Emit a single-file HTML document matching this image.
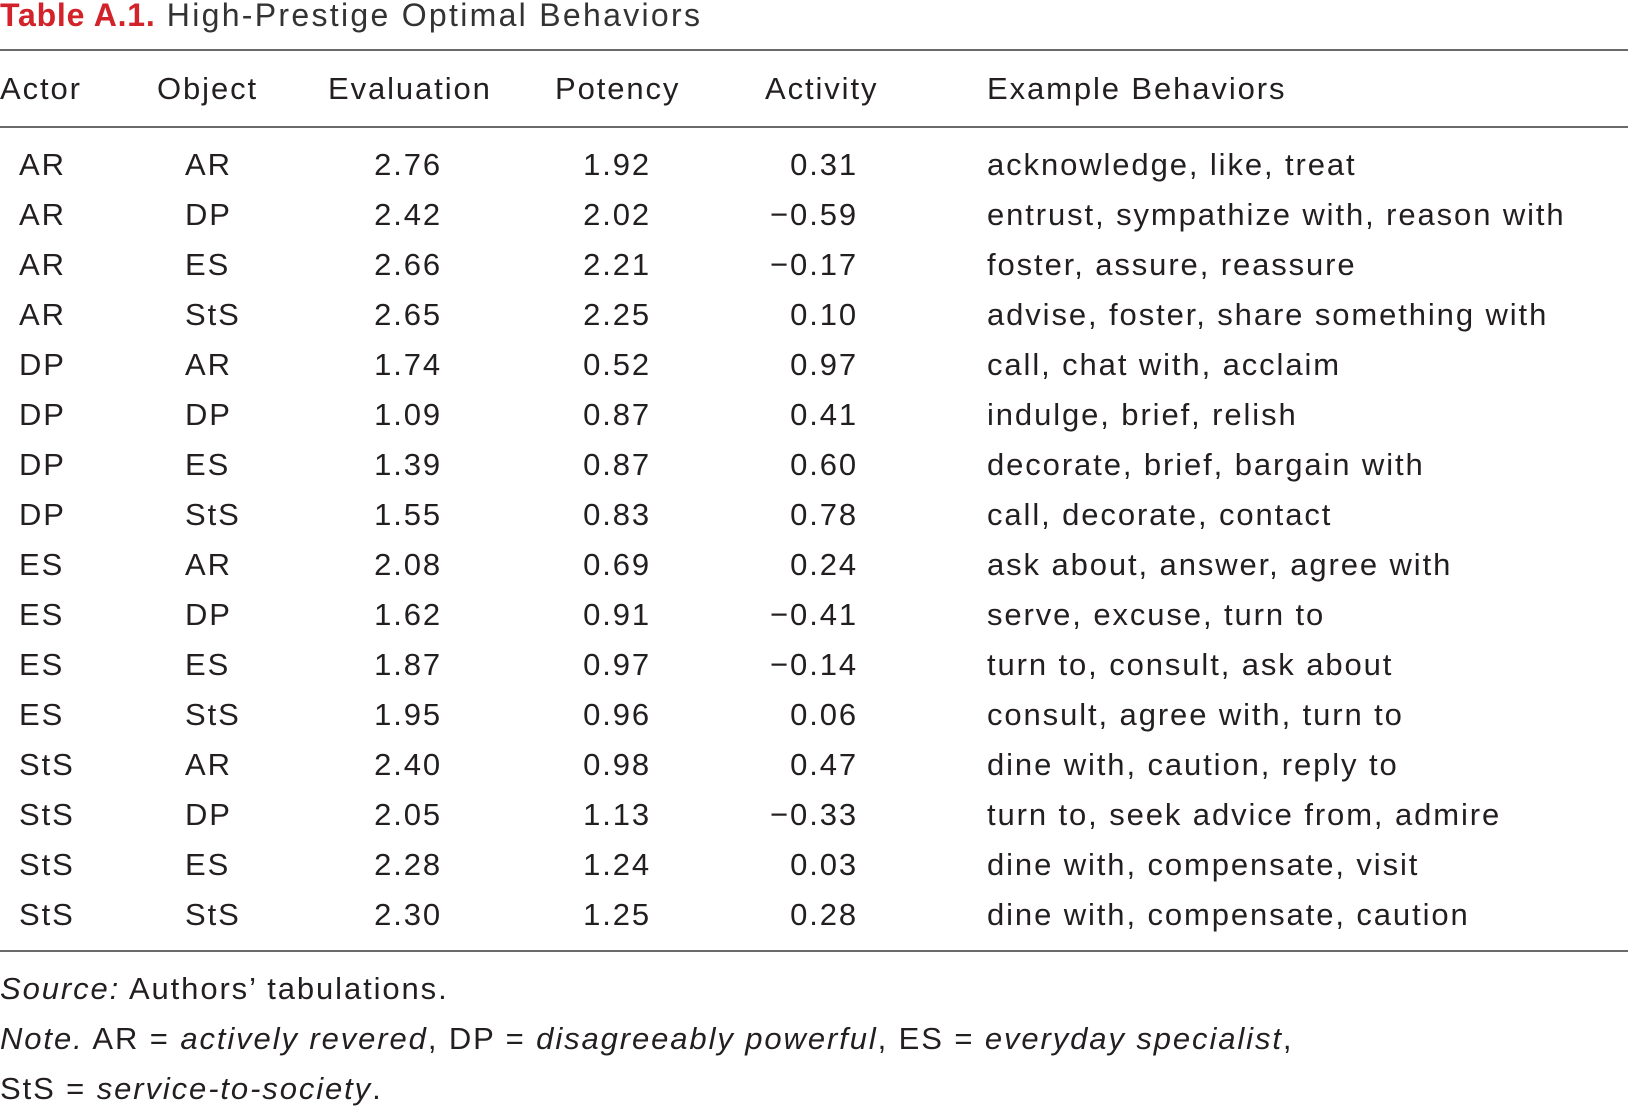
<!DOCTYPE html>
<html>
<head>
<meta charset="utf-8">
<style>
  html, body { margin: 0; padding: 0; background: #fff; }
  body { width: 1628px; height: 1108px; position: relative; overflow: hidden;
         font-family: "Liberation Sans", sans-serif; color: #231f20; }
  .t { position: absolute; white-space: nowrap; font-size: 31px; line-height: 40px; height: 40px; letter-spacing: 1.9px; }
  .r { text-align: right; }
  .rule { position: absolute; left: 0; width: 1628px; height: 2px; background: #6a6a6a; }
  i { font-style: italic; }
</style>
</head>
<body>
<div class="t" style="left:0;top:-5px;font-size:32px;letter-spacing:2.3px;">
  <b style="color:#d2232a;letter-spacing:0.8px;">Table A.1.</b>
  <span style="color:#333;">High-Prestige Optimal Behaviors</span>
</div>
<div class="rule" style="top:49px;"></div>

<div class="t" style="left:0;top:69px;">Actor</div>
<div class="t" style="left:157px;top:69px;">Object</div>
<div class="t" style="left:328px;top:69px;">Evaluation</div>
<div class="t" style="left:555px;top:69px;">Potency</div>
<div class="t" style="left:765px;top:69px;">Activity</div>
<div class="t" style="left:987px;top:69px;">Example Behaviors</div>
<div class="rule" style="top:126px;"></div>

<div id="rows"></div>

<div class="rule" style="top:950px;"></div>
<div class="t" style="left:0;top:969px;"><i>Source:</i> Authors’ tabulations.</div>
<div class="t" style="left:0;top:1019px;"><i>Note.</i> AR = <i>actively revered</i>, DP = <i>disagreeably powerful</i>, ES = <i>everyday specialist</i>,</div>
<div class="t" style="left:0;top:1069px;">StS = <i>service-to-society</i>.</div>

<script>
const actors = ["AR","AR","AR","AR","DP","DP","DP","DP","ES","ES","ES","ES","StS","StS","StS","StS"];
const objects = ["AR","DP","ES","StS","AR","DP","ES","StS","AR","DP","ES","StS","AR","DP","ES","StS"];
const evaluation = ["2.76","2.42","2.66","2.65","1.74","1.09","1.39","1.55","2.08","1.62","1.87","1.95","2.40","2.05","2.28","2.30"];
const potency = ["1.92","2.02","2.21","2.25","0.52","0.87","0.87","0.83","0.69","0.91","0.97","0.96","0.98","1.13","1.24","1.25"];
const activity = ["0.31","−0.59","−0.17","0.10","0.97","0.41","0.60","0.78","0.24","−0.41","−0.14","0.06","0.47","−0.33","0.03","0.28"];
const examples = ["acknowledge, like, treat","entrust, sympathize with, reason with","foster, assure, reassure","advise, foster, share something with","call, chat with, acclaim","indulge, brief, relish","decorate, brief, bargain with","call, decorate, contact","ask about, answer, agree with","serve, excuse, turn to","turn to, consult, ask about","consult, agree with, turn to","dine with, caution, reply to","turn to, seek advice from, admire","dine with, compensate, visit","dine with, compensate, caution"];

const container = document.getElementById('rows');
function cell(text, left, top, right) {
  const d = document.createElement('div');
  d.className = 't' + (right ? ' r' : '');
  d.textContent = text;
  if (right) { d.style.left = (left - 200) + 'px'; d.style.width = '200px'; }
  else d.style.left = left + 'px';
  d.style.top = top + 'px';
  container.appendChild(d);
  return d;
}
for (let i = 0; i < actors.length; i++) {
  const top = 145 + i * 49.97;
  const a = cell(actors[i], 19, top, false);
  
  
  const o = cell(objects[i], 185, top, false);
  
  
  const e = cell(evaluation[i], 442, top, true);
  
  
  const p = cell(potency[i], 651, top, true);
  
  
  const ac = cell(activity[i], 858, top, true);
  
  
  const ex = cell(examples[i], 987, top, false);
  
  
}
</script>
</body>
</html>
